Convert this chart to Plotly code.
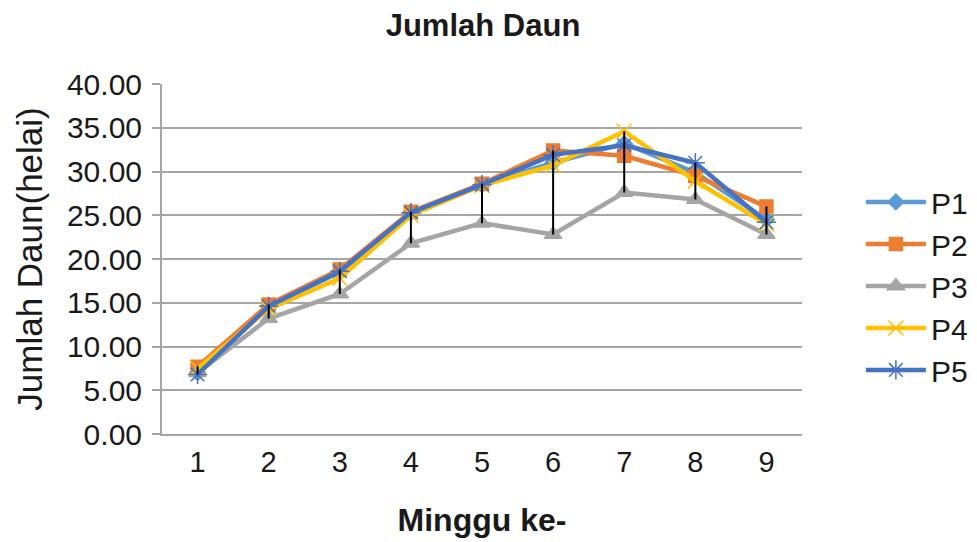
import plotly.graph_objects as go

weeks = [1, 2, 3, 4, 5, 6, 7, 8, 9]
p1 = [7.0, 14.6, 18.5, 25.3, 28.5, 31.0, 33.2, 29.9, 24.5]
p2 = [7.7, 14.8, 18.8, 25.4, 28.6, 32.4, 31.8, 29.5, 26.0]
p3 = [7.0, 13.2, 16.0, 21.8, 24.1, 22.8, 27.6, 26.8, 22.8]
p4 = [7.5, 14.3, 17.8, 25.0, 28.4, 30.7, 34.6, 28.9, 24.0]
p5 = [6.8, 14.6, 18.6, 25.3, 28.5, 31.9, 33.0, 31.0, 24.2]
names = ["P1", "P2", "P3", "P4", "P5"]
tick_vals = [0, 5, 10, 15, 20, 25, 30, 35, 40]

series = [p1, p2, p3, p4, p5]
colors = ["#5B9BD5", "#ED7D31", "#A5A5A5", "#FFC000", "#4472C4"]
symbols = ["diamond", "square", "triangle-up", "x-thin-open", "asterisk-open"]
sizes = [12, 13, 15, 15, 16]

FONT = "Liberation Sans, Arial, sans-serif"
fig = go.Figure()
for name, vals, c, s, sz in zip(names, series, colors, symbols, sizes):
    fig.add_trace(go.Scatter(
        x=weeks, y=vals, name=name, legendgroup=name, mode="lines+markers",
        line=dict(color=c, width=4.5),
        marker=dict(symbol=s, size=sz, color=c, line=dict(color=c, width=1.5)),
    ))

# high-low lines (Excel style: from highest to lowest series value per week)
hx, hy = [], []
for i, w in enumerate(weeks):
    col = [s[i] for s in series]
    hx += [w, w, None]
    hy += [max(col), min(col), None]
fig.add_trace(go.Scatter(x=hx, y=hy, mode="lines", line=dict(color="black", width=2),
                         showlegend=False, hoverinfo="skip"))

fig.update_layout(
    width=977, height=542,
    margin=dict(l=154, r=181, t=76, b=116),
    paper_bgcolor="white", plot_bgcolor="white",
    font=dict(family=FONT, size=30, color="#1a1a1a"),
    title=dict(text="<b>Jumlah Daun</b>", x=475 / 977, xanchor="center",
               y=1 - 17 / 542, yanchor="middle", font=dict(size=31)),
    xaxis=dict(range=[0.5, 9.5], tickvals=weeks, ticktext=[str(w) for w in weeks],
               showgrid=False, showline=True, linecolor="#A6A6A6", linewidth=2,
               ticks="", zeroline=False, ticklabelstandoff=1, tickfont=dict(size=29),
               title=dict(text="<b>Minggu ke-</b>", standoff=32, font=dict(size=32))),
    yaxis=dict(range=[0, 40], tickvals=tick_vals, tickformat=".2f",
               showgrid=True, gridcolor="#A6A6A6", gridwidth=2,
               showline=True, linecolor="#A6A6A6", linewidth=2,
               ticks="outside", ticklen=8, tickcolor="#A6A6A6", tickwidth=2,
               zeroline=False, ticklabelstandoff=4, tickfont=dict(size=30),
               title=dict(text="Jumlah Daun(helai)", standoff=14, font=dict(size=35))),
    legend=dict(x=1.092, xanchor="left", y=0.423, yanchor="middle",
                font=dict(size=30), tracegroupgap=0, itemwidth=60),
)
fig.write_html("out.html")
